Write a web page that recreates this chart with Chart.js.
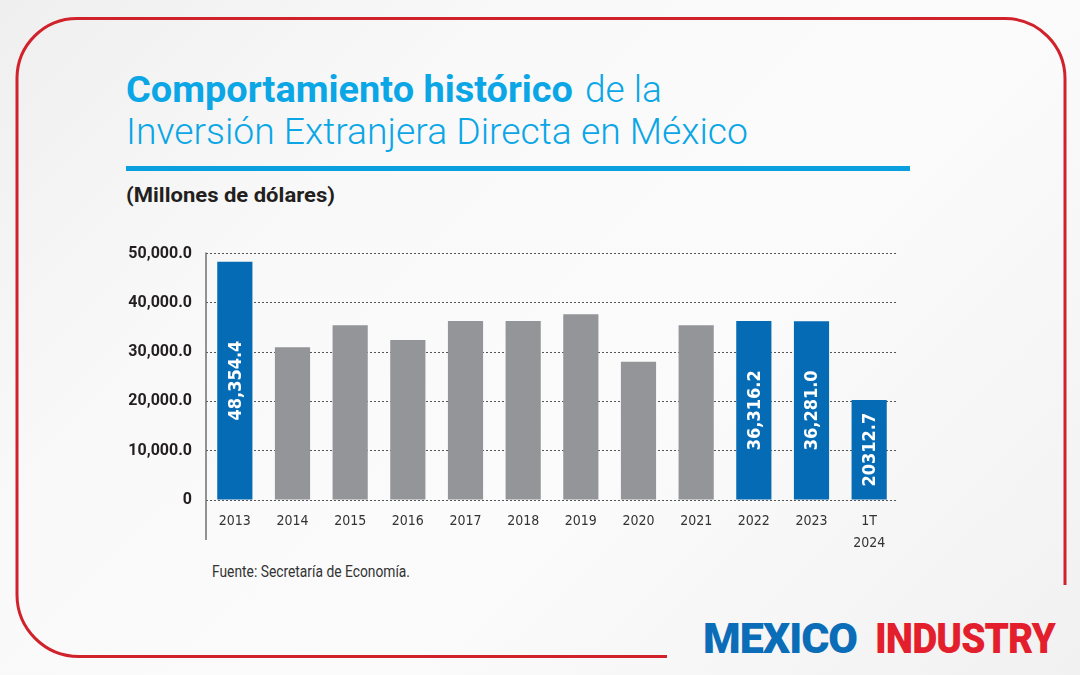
<!DOCTYPE html>
<html lang="es">
<head>
<meta charset="utf-8">
<title>Inversión Extranjera Directa en México</title>
<script src="https://cdn.jsdelivr.net/npm/chart.js@4.4.1/dist/chart.umd.min.js"></script>
<style>
  html, body { margin: 0; padding: 0; }
  body {
    width: 1080px; height: 675px; position: relative; overflow: hidden;
    background: linear-gradient(135deg, #efefef 0%, #f9f9f9 30%, #fbfbfb 60%, #f1f1f1 100%);
    font-family: Roboto, "Noto Sans", sans-serif;
  }
  .txt { position: absolute; white-space: nowrap; line-height: 1; transform-origin: left top; }
  #frame { position: absolute; left: 0; top: 0; }
  #chartBox { position: absolute; left: 100px; top: 230px; width: 810px; height: 330px; }
  .rule { position: absolute; left: 126px; top: 166px; width: 784px; height: 5px; background: #0a9fdf; }
</style>
</head>
<body>
<svg id="frame" width="1080" height="675">
  <path d="M667 656.5 L79 656.5 A62 62 0 0 1 17 594.5 L17 78 A60 60 0 0 1 77 18.5 L1005 18.5 A60 60 0 0 1 1065 78.5 L1065 585"
        fill="none" stroke="#d1222b" stroke-width="3"/>
</svg>

<div class="txt" data-w="447" style="left:126px; top:71px; font-size:37px; font-weight:700; color:#0aa6e6;">Comportamiento histórico</div>
<div class="txt" data-w="77" style="left:585px; top:71px; font-size:37px; font-weight:300; color:#0aa6e6;">de la</div>
<div class="txt" data-w="622" style="left:126px; top:113px; font-size:37px; font-weight:300; color:#0aa6e6;">Inversión Extranjera Directa en México</div>
<div class="rule"></div>
<div class="txt" data-w="209" style="left:126px; top:185px; font-size:20px; font-weight:700; color:#231f20;">(Millones de dólares)</div>

<div id="chartBox"><canvas id="iedChart"></canvas></div>

<div class="txt" data-w="198" style="left:212px; top:563px; font-size:17px; font-weight:400; color:#333;">Fuente: Secretaría de Economía.</div>

<div class="txt" data-w="154" style="left:703px; top:617px; font-size:43px; font-weight:900; color:#0b6db7; letter-spacing:-1px;">MEXICO</div>
<div class="txt" data-w="180" style="left:875px; top:617px; font-size:43px; font-weight:900; color:#e41f2d; letter-spacing:-1px;">INDUSTRY</div>

<script>
// datos (millones de dólares)
const years = ['2013', '2014', '2015', '2016', '2017', '2018', '2019', '2020', '2021', '2022', '2023', ['1T', '2024']];
const ied = [48354.4, 31010, 35450, 32480, 36300, 36300, 37670, 28040, 35450, 36316.2, 36281.0, 20312.7];
const barLabels = ['48,354.4', '', '', '', '', '', '', '', '', '36,316.2', '36,281.0', '20312.7'];
const highlighted = [true, false, false, false, false, false, false, false, false, true, true, true];
const yTicks = [0, 10000, 20000, 30000, 40000, 50000];

const BLUE = '#046bb4';
const GREY = '#939598';
const NARROW = "'DejaVu Sans Condensed', 'Roboto', sans-serif";

// ajusta el ancho de los textos
function fitTexts() {
  document.querySelectorAll('.txt[data-w]').forEach(el => {
    el.style.transform = 'none';
    const w = el.getBoundingClientRect().width;
    const target = +el.dataset.w;
    if (w > 0) el.style.transform = 'scaleX(' + (target / w) + ')';
  });
}
fitTexts();
if (document.fonts) document.fonts.ready.then(fitTexts);

// etiquetas verticales dentro de las barras + eje vertical extendido
const barText = {
  id: 'barText',
  afterDatasetsDraw(chart) {
    const ctx = chart.ctx;
    const meta = chart.getDatasetMeta(0);
    ctx.save();
    ctx.fillStyle = '#ffffff';
    ctx.font = 'bold 18px ' + NARROW;
    ctx.textAlign = 'center';
    ctx.textBaseline = 'middle';
    meta.data.forEach((bar, i) => {
      if (!barLabels[i]) return;
      const cy = (bar.y + bar.base) / 2;
      ctx.save();
      ctx.translate(bar.x, cy);
      ctx.rotate(-Math.PI / 2);
      ctx.fillText(barLabels[i], 0, 1);
      ctx.restore();
    });
    ctx.restore();
  },
  afterDraw(chart) {
    const a = chart.chartArea;
    const ctx = chart.ctx;
    ctx.save();
    ctx.strokeStyle = '#6f6f6f';
    ctx.lineWidth = 1.5;
    ctx.beginPath();
    ctx.moveTo(a.left, a.top - 1);
    ctx.lineTo(a.left, a.bottom + 40);
    ctx.stroke();
    ctx.restore();
  }
};

new Chart(document.getElementById('iedChart'), {
  type: 'bar',
  data: {
    labels: years,
    datasets: [{
      label: 'IED',
      data: ied,
      backgroundColor: highlighted.map(h => h ? BLUE : GREY),
      borderWidth: 0,
      categoryPercentage: 1,
      barPercentage: 0.61
    }]
  },
  options: {
    responsive: true,
    maintainAspectRatio: false,
    animation: false,
    layout: { padding: { top: 16, right: 12, left: 0, bottom: 0 } },
    plugins: { legend: { display: false }, tooltip: { enabled: false } },
    scales: {
      x: {
        grid: { display: false },
        border: { display: false },
        ticks: {
          color: '#333',
          padding: 2,
          maxRotation: 0,
          autoSkip: false,
          font: { family: NARROW, size: 14, lineHeight: 1.6 }
        },
        afterFit(scale) { scale.height = 60; }
      },
      y: {
        min: 0,
        max: 50000,
        afterBuildTicks(scale) { scale.ticks = yTicks.map(v => ({ value: v })); },
        grid: { color: '#555', lineWidth: 1, drawTicks: false },
        border: { display: false, dash: [2, 2] },
        ticks: {
          color: '#231f20',
          padding: 14,
          font: { family: 'Roboto', size: 16, weight: 'bold' },
          callback: v => v === 0 ? '0' : v.toLocaleString('en-US', { minimumFractionDigits: 1, maximumFractionDigits: 1 })
        },
        afterFit(scale) { scale.width = 106; }
      }
    }
  },
  plugins: [barText]
});
</script>
</body>
</html>
